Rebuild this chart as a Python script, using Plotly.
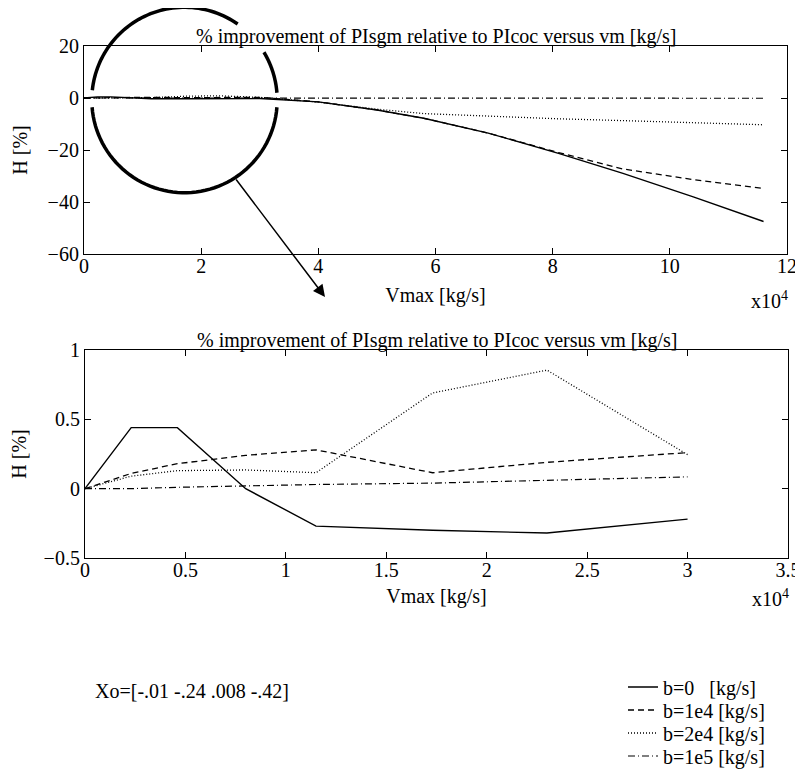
import numpy as np
import plotly.graph_objects as go

# ---------------- data ----------------
vmax_kg_s = [0, 2300, 4600, 8000, 11500, 17300, 23000, 30000,
             40000, 50000, 58000, 69000, 81000, 92000, 104000, 116000]
h_b0 = [0.0, 0.44, 0.44, 0.0, -0.27, -0.30, -0.32, -0.22,
        -1.5, -4.6, -7.8, -13.5, -21.3, -29.0, -38.0, -47.5]
h_b1e4 = [0.0, 0.11, 0.18, 0.24, 0.28, 0.115, 0.19, 0.26,
          -1.5, -4.6, -7.8, -13.5, -21.0, -27.3, -31.4, -34.8]
h_b2e4 = [0.0, 0.09, 0.13, 0.135, 0.115, 0.69, 0.855, 0.245,
          -1.6, -4.3, -6.0, -7.0, -8.0, -8.7, -9.6, -10.3]
h_b1e5 = [0.0, 0.0, 0.01, 0.02, 0.03, 0.04, 0.06, 0.085,
          0.1, 0.1, 0.1, 0.05, 0.0, 0.0, -0.05, -0.1]
series_names = ["b=0\u00a0\u00a0 [kg/s]", "b=1e4 [kg/s]", "b=2e4 [kg/s]", "b=1e5 [kg/s]"]
zoom_limit_kg_s = 30000
x_scale = 1e4

title_text = "% improvement of PIsgm relative to PIcoc versus vm [kg/s]"
xo_text = "Xo=[-.01 -.24 .008 -.42]"

# ---------------- styles ----------------
FONT = "Liberation Serif"
FS = 20
dashes = ["solid", "6px,4px", "1px,2px", "7px,3px,1px,3px"]
widths = [1.4, 1.3, 1.3, 1.2]

PAGE_OFF = 8            # default body margin of the html page
PAGE_W, PAGE_H = 803, 773
W, H = PAGE_W - PAGE_OFF, PAGE_H - PAGE_OFF
# plot-area edges in page pixels
L, R, T, B = 84, 788, 46, 558


def px(x):
    return (x - L) / (R - L)


def py(y):
    return (B - y) / (B - T)


series = [h_b0, h_b1e4, h_b2e4, h_b1e5]
vm = np.array(vmax_kg_s, dtype=float) / x_scale
mask = np.array(vmax_kg_s) <= zoom_limit_kg_s
legend_ids = ["legend", "legend2", "legend3", "legend4"]
legend_rows = [687, 710, 733, 756]

fig = go.Figure()
for i, (name, ys) in enumerate(zip(series_names, series)):
    ys = np.array(ys)
    fig.add_trace(go.Scatter(x=vm, y=ys, mode="lines", name=name,
                             line=dict(color="black", width=widths[i], dash=dashes[i]),
                             xaxis="x", yaxis="y", showlegend=True, legend=legend_ids[i]))
    fig.add_trace(go.Scatter(x=vm[mask], y=ys[mask], mode="lines", name=name,
                             line=dict(color="black", width=widths[i], dash=dashes[i]),
                             xaxis="x2", yaxis="y2", showlegend=False))

axis_common = dict(showline=True, linecolor="black", linewidth=1.2, mirror="ticks",
                   ticks="inside", ticklen=6, tickwidth=1, tickcolor="black",
                   showgrid=False, zeroline=False, automargin=False,
                   tickfont=dict(family=FONT, size=FS, color="black"),
                   title_font=dict(family=FONT, size=FS, color="black"))

top_dom = [py(254), 1.0]
bot_dom = [0.0, py(350)]

layout_legends = {}
for lid, row in zip(legend_ids, legend_rows):
    layout_legends[lid] = dict(x=px(623), y=py(row), xanchor="left", yanchor="middle",
                               font=dict(family=FONT, size=FS, color="black"),
                               bgcolor="rgba(0,0,0,0)", itemwidth=30)

fig.update_layout(
    width=W, height=H,
    margin=dict(l=L - PAGE_OFF, r=PAGE_W - R, t=T - PAGE_OFF, b=PAGE_H - B, autoexpand=False),
    paper_bgcolor="white", plot_bgcolor="white",
    font=dict(family=FONT, size=FS, color="black"),
    xaxis=dict(axis_common, domain=[0, px(787)], range=[0, 12], tickvals=list(range(0, 13, 2)),
               anchor="y", ticklabelstandoff=-6, title=dict(text="Vmax [kg/s]", standoff=11)),
    yaxis=dict(axis_common, domain=top_dom, range=[-60, 20], tickvals=[-60, -40, -20, 0, 20],
               anchor="x", title=dict(text="H [%]", standoff=14)),
    xaxis2=dict(axis_common, domain=[px(85), 1.0], range=[0, 3.5],
                tickvals=[0, 0.5, 1, 1.5, 2, 2.5, 3, 3.5],
                anchor="y2", ticklabelstandoff=-6, title=dict(text="Vmax [kg/s]", standoff=8)),
    yaxis2=dict(axis_common, domain=bot_dom, range=[-0.5, 1], tickvals=[-0.5, 0, 0.5, 1],
                anchor="x2", title=dict(text="H [%]", standoff=14)),
    showlegend=True,
    **layout_legends,
)

annotations = [
    dict(text=title_text, x=0.5 * (px(84) + px(787)), y=1.0, xref="paper", yref="paper",
         xanchor="center", yanchor="bottom", showarrow=False, yshift=-4,
         font=dict(family=FONT, size=FS, color="black")),
    dict(text=title_text, x=0.5 * (px(85) + px(789)), y=bot_dom[1], xref="paper", yref="paper",
         xanchor="center", yanchor="bottom", showarrow=False, yshift=-4,
         font=dict(family=FONT, size=FS, color="black")),
    dict(text="x10<sup>4</sup>", x=px(790), y=py(300), xref="paper", yref="paper",
         xanchor="right", yanchor="middle", showarrow=False,
         font=dict(family=FONT, size=FS, color="black")),
    dict(text="x10<sup>4</sup>", x=px(791), y=py(598), xref="paper", yref="paper",
         xanchor="right", yanchor="middle", showarrow=False,
         font=dict(family=FONT, size=FS, color="black")),
    dict(text=xo_text, x=px(93), y=py(691), xref="paper", yref="paper",
         xanchor="left", yanchor="middle", showarrow=False,
         font=dict(family=FONT, size=FS, color="black")),
    # zoom arrow
    dict(text="", x=px(325), y=py(297), xref="paper", yref="paper",
         ax=235 - 325, ay=178 - 297, axref="pixel", ayref="pixel",
         showarrow=True, arrowhead=2, arrowsize=1.6, arrowwidth=1.5, arrowcolor="black"),
]
fig.update_layout(annotations=annotations)

# zoom circle (three arcs with gaps), built in page pixels then mapped to paper
cx, cy, rad = 184.5, 100.0, 92.7


def arc_path(a0, a1, n=60):
    th = np.radians(np.linspace(a0, a1, n))
    xs = cx + rad * np.cos(th)
    ys = cy - rad * np.sin(th)
    pts = [f"{px(x):.5f},{py(y):.5f}" for x, y in zip(xs, ys)]
    return "M" + " L".join(pts)


shapes = []
for a0, a1 in [(174, 55), (31, 4.5), (184.5, 355.5)]:
    shapes.append(dict(type="path", path=arc_path(a0, a1), xref="paper", yref="paper",
                       line=dict(color="black", width=3.5), layer="above"))
fig.update_layout(shapes=shapes)

fig.write_html("out.html")
